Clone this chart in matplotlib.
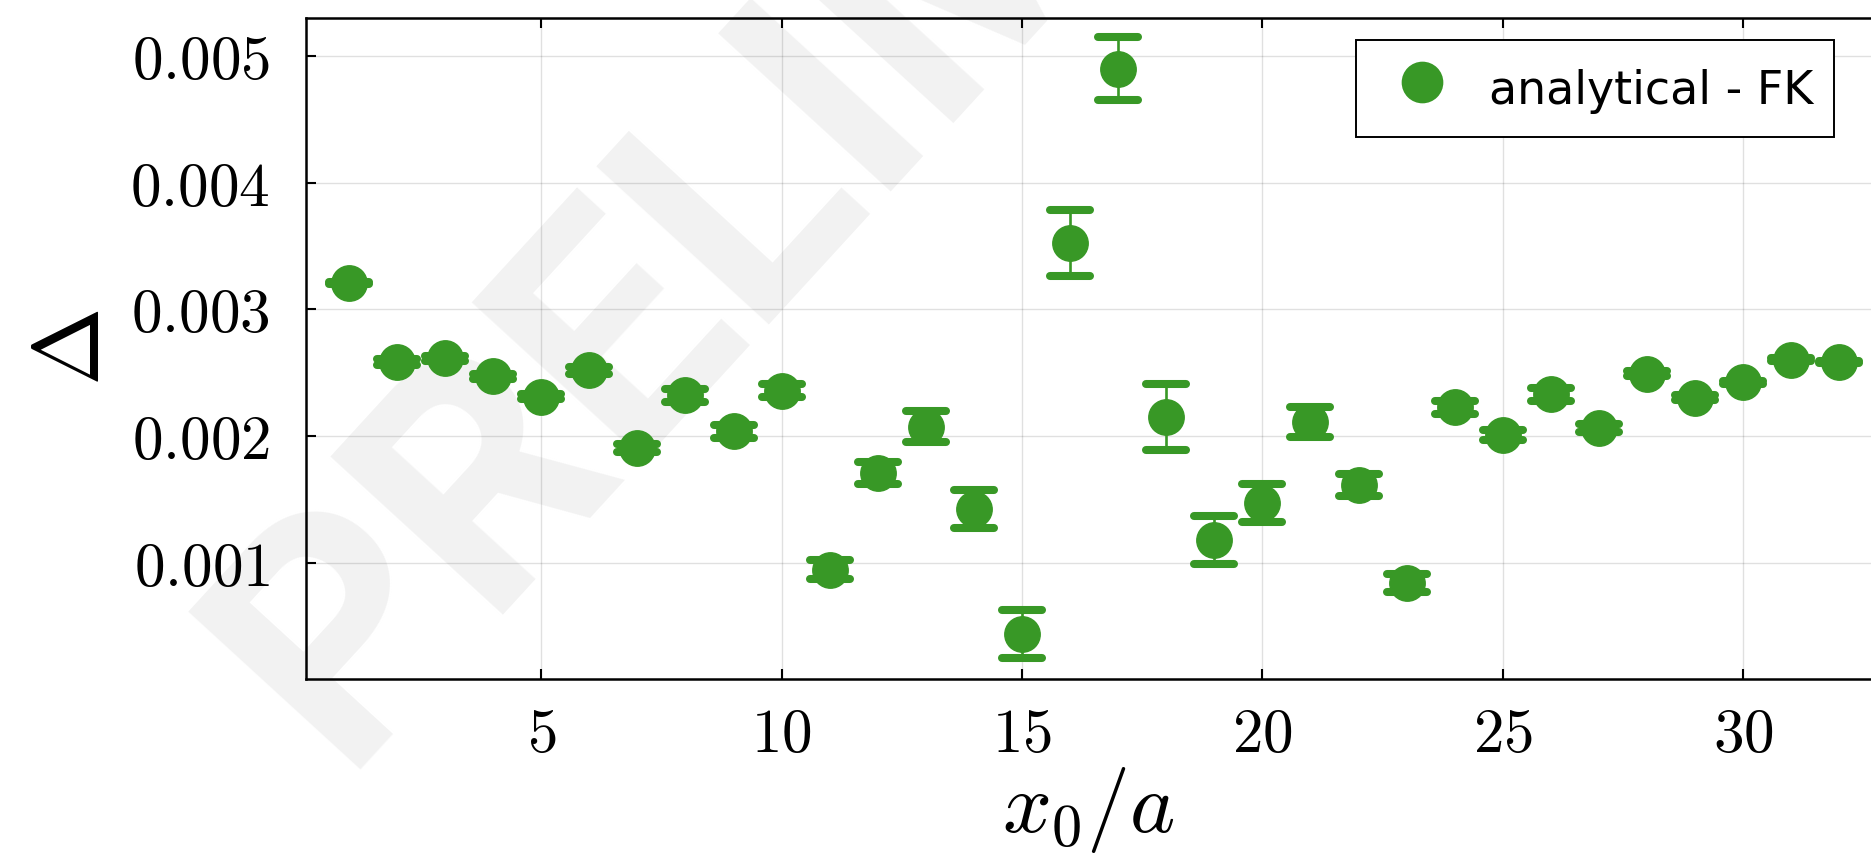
import numpy as np
import matplotlib
matplotlib.use("Agg")
import matplotlib.pyplot as plt
from matplotlib.lines import Line2D
from matplotlib.markers import MarkerStyle

plt.rcParams['mathtext.fontset'] = 'cm'

# data
x0 = np.arange(1, 33)
delta = [0.003208, 0.002585, 0.002613, 0.002472, 0.002311, 0.002519, 0.001906, 0.002321,
         0.002038, 0.002358, 0.000943, 0.001708, 0.002075, 0.001425, 0.000434, 0.003524,
         0.004903, 0.002151, 0.001179, 0.001472, 0.002113, 0.001613, 0.000840, 0.002226,
         0.002009, 0.002330, 0.002066, 0.002491, 0.002302, 0.002425, 0.002604, 0.002585]
delta_err = [0.00001, 0.00002, 0.00002, 0.00002, 0.00002, 0.00003, 0.00003, 0.00005,
             0.00005, 0.00005, 0.000075, 0.00009, 0.00012, 0.00015, 0.00019, 0.000263,
             0.000247, 0.00026, 0.00019, 0.00015, 0.00012, 0.00009, 0.00007, 0.00005,
             0.00004, 0.00005, 0.00003, 0.00002, 0.00002, 0.00001, 0.00001, 0.00001]
xticks = [5, 10, 15, 20, 25, 30]
yticks = [0.001, 0.002, 0.003, 0.004, 0.005]
label = 'analytical - FK'
green = '#389826'

W, H = 1871, 863
fig = plt.figure(figsize=(W / 100, H / 100), dpi=100)
ax = fig.add_axes([306 / W, 1 - 678.5 / H, 1 - 306 / W, (678.5 - 18) / H])

# watermark behind everything
ax.text(340 / W, 1 - 770 / H, 'PRELIMINARY', transform=fig.transFigure,
        rotation=47.5, rotation_mode='anchor', ha='left', va='baseline',
        fontsize=236, fontweight='bold', family='Roboto',
        color='#f2f2f2', zorder=0.9, clip_on=False)

eb = ax.errorbar(x0, delta, yerr=delta_err, fmt='o', color=green, ms=25.5,
                 mec=green, elinewidth=1.9, capsize=14.6, capthick=5.8, zorder=3)
for cap in eb[1]:
    cap.set_marker(MarkerStyle('_', capstyle='round'))

ax.set_xlim(0.108, 32.66)
ax.set_ylim(0.0000854, 0.005302)
ax.set_xticks(xticks)
ax.set_xticklabels(['$%d$' % t for t in xticks])
ax.set_yticks(yticks)
ax.set_yticklabels(['$%.3f$' % t for t in yticks])
ax.tick_params(direction='in', length=7, width=1.5, labelsize=44, top=True, right=False)
ax.tick_params(axis='y', pad=26)
ax.tick_params(axis='x', pad=20)
ax.grid(True, color='black', alpha=0.12, lw=1.0)
for s in ['left', 'top', 'bottom']:
    ax.spines[s].set_linewidth(1.8)
ax.spines['right'].set_visible(False)

ax.set_xlabel(r'$x_0/a$', fontsize=62, labelpad=0)
ax.set_ylabel(r'$\Delta$', fontsize=68, labelpad=8)

proxy = Line2D([], [], ls='none', marker='o', ms=30, color=green, mew=0)
leg = ax.legend([proxy], [label], loc='upper right', fontsize=33,
                bbox_to_anchor=(1833.5 / W, 1 - 40 / H), bbox_transform=fig.transFigure,
                borderaxespad=0, borderpad=0.45, handlelength=2.0, handleheight=1.5,
                handletextpad=0.45, fancybox=False, framealpha=1, edgecolor='black')
leg.get_frame().set_linewidth(1.4)

fig.savefig('out.png', dpi=100)
